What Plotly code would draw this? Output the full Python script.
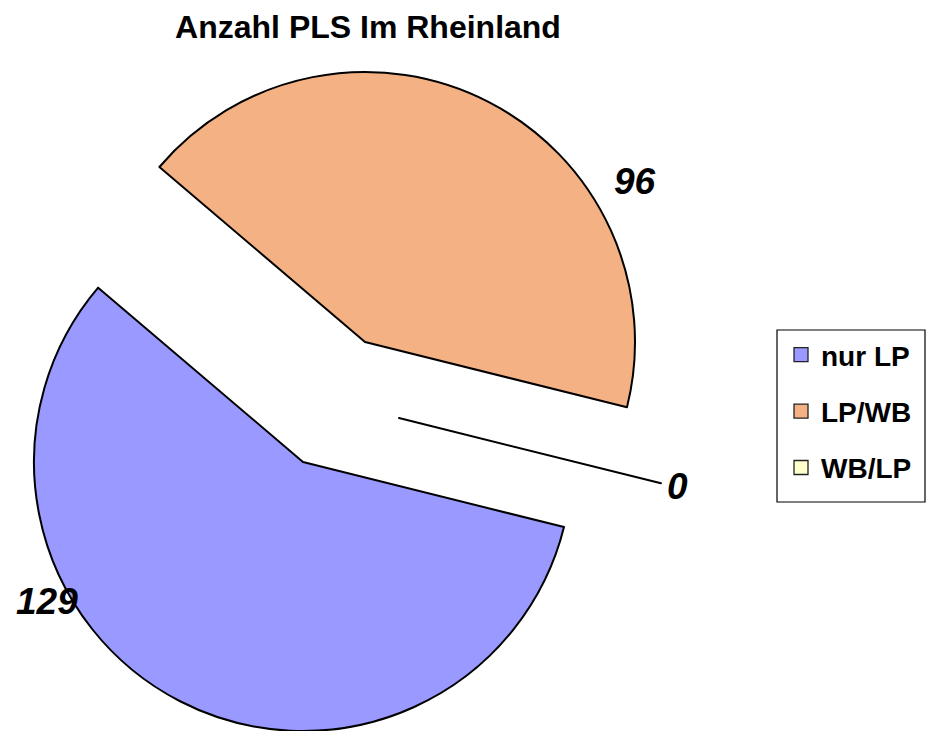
import plotly.graph_objects as go

# ---- data ----
labels = ["nur LP", "LP/WB", "WB/LP"]
values = [129, 96, 0]
colors = ["#9999FF", "#F4B183", "#FFFFCC"]
title_text = "Anzahl PLS Im Rheinland"

W, H = 927, 731
FONT = "Liberation Sans, Arial, sans-serif"

# each slice drawn by its own (exploded) pie trace: centre px, radius px
slice_geom = [(303, 462, 269), (365, 342, 270), (399, 418, 270)]
label_pos = [(47, 601), (635, 181), (677, 486)]


def domain(cx, cy, r):
    return dict(x=[(cx - r) / W, (cx + r) / W],
                y=[1 - (cy + r) / H, 1 - (cy - r) / H])


fig = go.Figure()
for k, (cx, cy, r) in enumerate(slice_geom):
    fc = [c if i == k else "rgba(0,0,0,0)" for i, c in enumerate(colors)]
    lw = [2 if i == k else 0 for i in range(len(labels))]
    lc = ["black" if i == k else "rgba(0,0,0,0)" for i in range(len(labels))]
    fig.add_trace(go.Pie(
        labels=labels, values=values, sort=False, direction="clockwise",
        rotation=104, textinfo="none", hoverinfo="skip", showlegend=False,
        marker=dict(colors=fc, line=dict(color=lc, width=lw)),
        domain=domain(cx, cy, r),
    ))

# legend entries
for i, (lab, col) in enumerate(zip(labels, colors)):
    fig.add_trace(go.Scatter(
        x=[None], y=[None], mode="markers", name=lab, legendgroup=lab,
        marker=dict(symbol="square", size=14, color=col,
                    line=dict(color="#222222", width=1.3)),
    ))

# data labels
for v, (px, py) in zip(values, label_pos):
    fig.add_annotation(
        x=px / W, y=1 - py / H, xref="paper", yref="paper",
        text=str(v), showarrow=False, xanchor="center", yanchor="middle",
        font=dict(family=FONT, size=37, color="black", weight="bold", style="italic"),
    )

# legend frame
fig.add_shape(type="rect", xref="paper", yref="paper",
              x0=777 / W, x1=925 / W, y0=1 - 502 / H, y1=1 - 330 / H,
              line=dict(color="black", width=1.2), fillcolor="rgba(0,0,0,0)")

fig.update_layout(
    width=W, height=H,
    margin=dict(l=0, r=0, t=0, b=0),
    paper_bgcolor="white", plot_bgcolor="white",
    title=dict(text=title_text, x=368 / W, xanchor="center", y=1 - 16 / H, yanchor="top",
               font=dict(family=FONT, size=32, color="black", weight="bold")),
    xaxis=dict(visible=False), yaxis=dict(visible=False),
    showlegend=True,
    legend=dict(x=781 / W, xanchor="left", y=1 - 330 / H, yanchor="top",
                bgcolor="rgba(0,0,0,0)", borderwidth=0, tracegroupgap=17,
                font=dict(family=FONT, size=28, color="black", weight="bold"),
                itemclick=False, itemdoubleclick=False),
)

fig.write_html("out.html", config={"displayModeBar": False},
               post_script="document.body.style.margin='0';document.body.style.overflow='hidden';")
